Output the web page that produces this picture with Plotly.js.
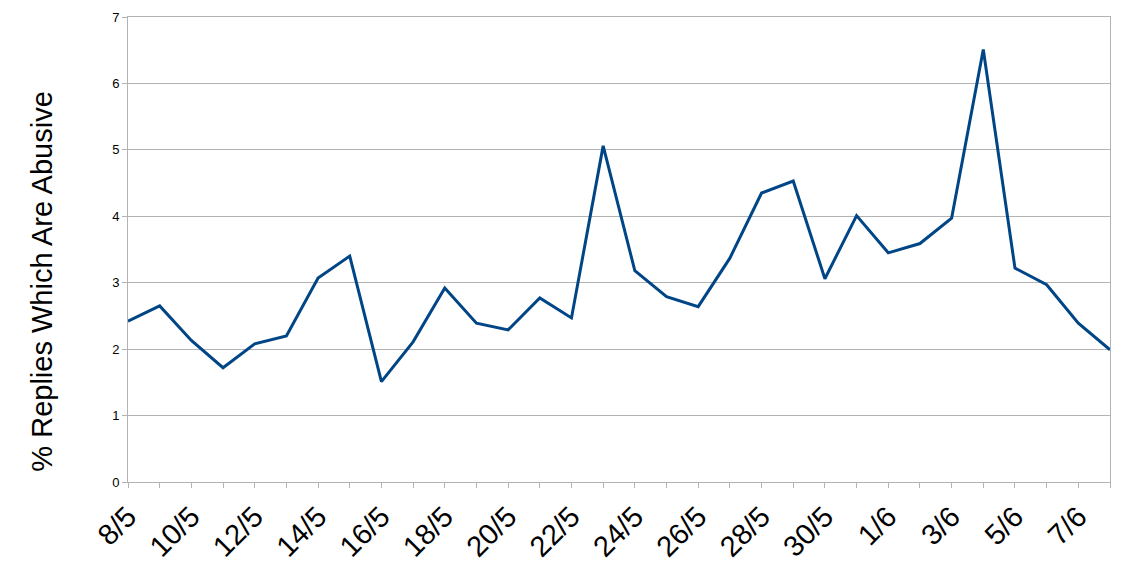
<!DOCTYPE html>
<html>
<head>
<meta charset="utf-8">
<script src="https://cdn.plot.ly/plotly-3.0.1.min.js"></script>
<style>html,body{margin:0;padding:0;background:#fff;}#chart{width:1134px;height:567px;}</style>
</head>
<body>
<div id="chart"></div>
<script>
const dates = ["8/5","9/5","10/5","11/5","12/5","13/5","14/5","15/5","16/5","17/5","18/5","19/5","20/5","21/5","22/5","23/5","24/5","25/5","26/5","27/5","28/5","29/5","30/5","31/5","1/6","2/6","3/6","4/6","5/6","6/6","7/6","8/6"];
const abusivePct = [2.42,2.65,2.13,1.72,2.08,2.20,3.07,3.40,1.51,2.11,2.92,2.39,2.29,2.77,2.47,5.06,3.18,2.79,2.64,3.37,4.35,4.53,3.06,4.01,3.45,3.59,3.97,6.51,3.22,2.97,2.39,1.99];
const yTitle = "% Replies Which Are Abusive";

const idx = dates.map((d,i)=>i);
const labelIdx = idx.filter(i => i % 2 === 0 && i < dates.length - 1);

const trace = {
  x: idx, y: abusivePct, type: 'scatter', mode: 'lines',
  line: {color: '#004586', width: 3}, hoverinfo: 'skip'
};

const layout = {
  width: 1134, height: 567,
  margin: {l: 128, r: 24, t: 17, b: 85},
  paper_bgcolor: '#fff', plot_bgcolor: '#fff',
  showlegend: false,
  font: {family: 'Liberation Sans, Arial, sans-serif', color: '#000'},
  xaxis: {
    range: [0, dates.length - 1],
    tickmode: 'array',
    tickvals: labelIdx,
    ticktext: labelIdx.map(i => dates[i]),
    tickangle: -45,
    tickfont: {size: 29, color: '#000'},
    ticks: 'outside', ticklen: 5, tickcolor: '#b3b3b3', tickwidth: 1,
    minor: {dtick: 1, tick0: 0, ticks: 'outside', ticklen: 5, tickcolor: '#b3b3b3', tickwidth: 1, showgrid: false},
    showgrid: false, zeroline: false,
    showline: true, linecolor: '#b3b3b3', linewidth: 1, mirror: true,
    automargin: false
  },
  yaxis: {
    range: [0, 7], dtick: 1, tick0: 0,
    tickfont: {size: 13, color: '#000'},
    ticks: 'outside', ticklen: 5, tickcolor: '#b3b3b3',
    showgrid: true, gridcolor: '#b3b3b3', gridwidth: 1,
    zeroline: false, showline: true, linecolor: '#b3b3b3', linewidth: 1, mirror: true
  },
  annotations: [{
    text: yTitle, textangle: -90, showarrow: false,
    xref: 'paper', yref: 'paper', x: -0.088, y: 0.43,
    xanchor: 'center', yanchor: 'middle',
    font: {size: 29, color: '#000', family: 'Liberation Sans, Arial, sans-serif'}
  }]
};

Plotly.newPlot('chart', [trace], layout, {staticPlot: true, displayModeBar: false});
</script>
</body>
</html>
